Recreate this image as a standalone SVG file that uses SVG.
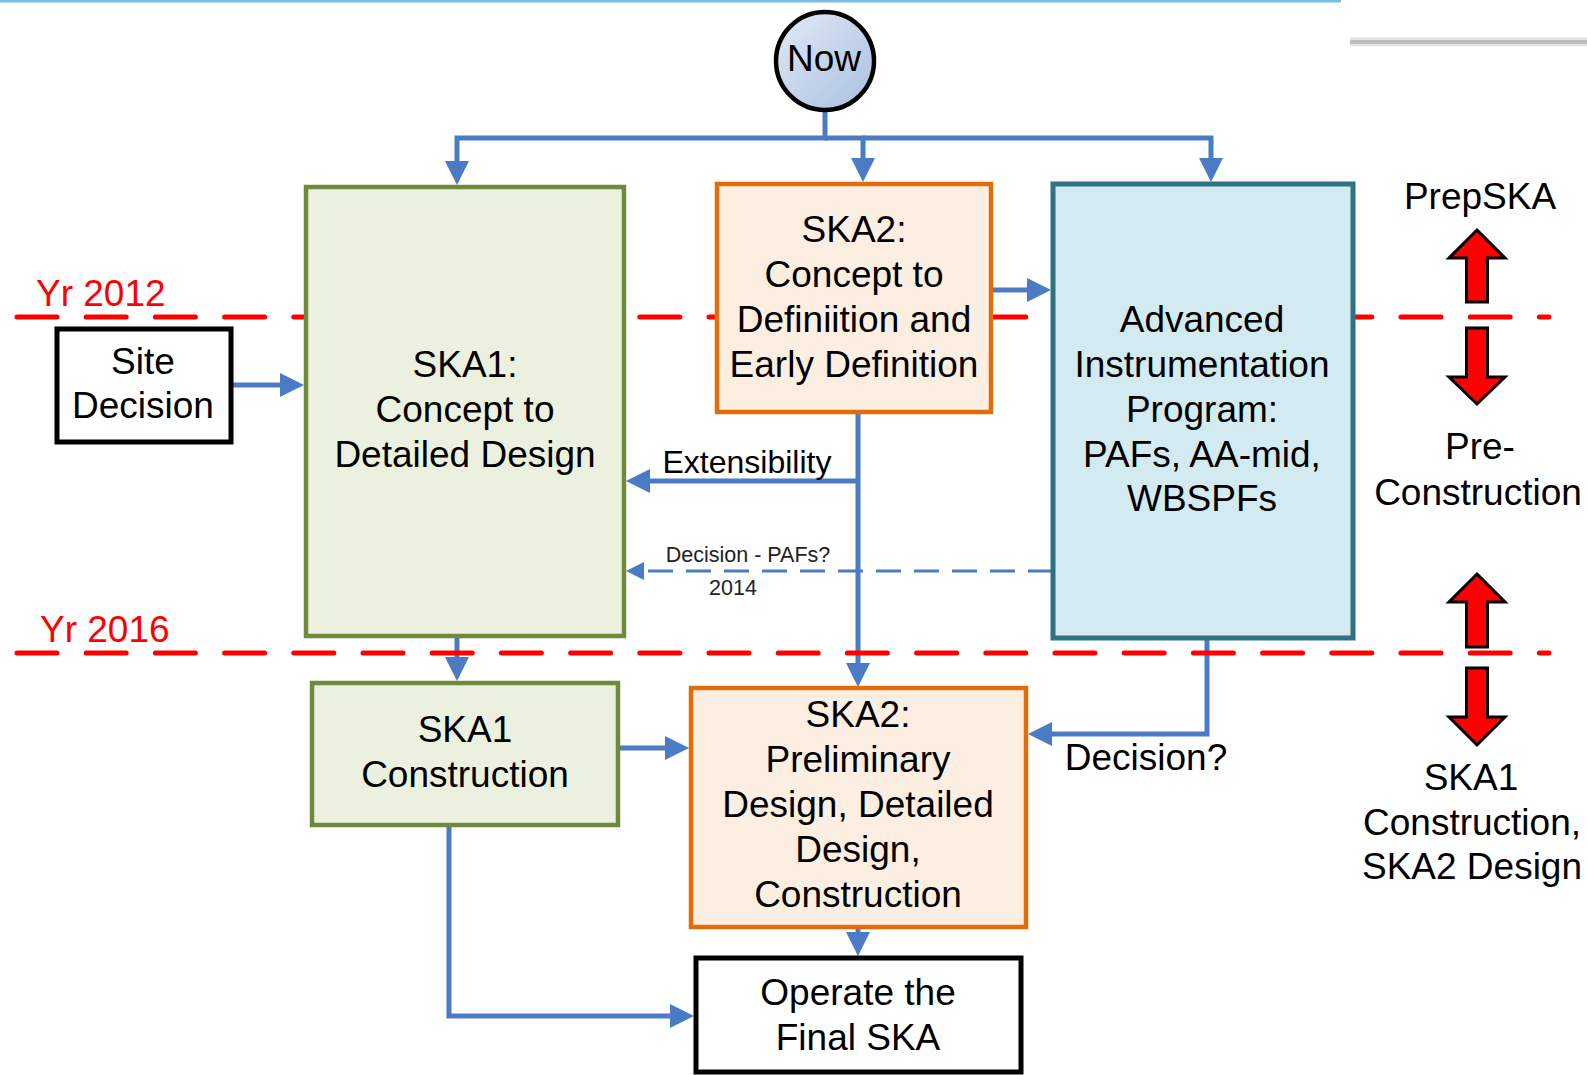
<svg xmlns="http://www.w3.org/2000/svg" width="1587" height="1075" viewBox="0 0 1587 1075">
<style>
text{font-family:"Liberation Sans",Arial,sans-serif;fill:#000;text-anchor:middle}
.t{font-size:37px}
.yr{font-size:37px;fill:#ff0000;text-anchor:start}
.ext{font-size:32px}
.sm{font-size:21.5px;fill:#222}
.con{fill:none;stroke:#4a7bc4;stroke-width:5;stroke-linejoin:miter}
.dash{fill:none;stroke:#4a7bc4;stroke-width:3;stroke-dasharray:25 13}
.red{fill:none;stroke:#ff0000;stroke-width:5;stroke-linecap:round;stroke-dasharray:40 29.2}
.rarr{fill:#ff0000;stroke:#000;stroke-width:3;stroke-linejoin:miter}
</style>
<defs>
<marker id="ah" markerUnits="userSpaceOnUse" markerWidth="24" markerHeight="24" refX="14" refY="12" orient="auto">
<path d="M0,0 L24,12 L0,24 z" fill="#4a7bc4"/>
</marker>
<marker id="ahs" markerUnits="userSpaceOnUse" markerWidth="18" markerHeight="18" refX="8" refY="9" orient="auto">
<path d="M0,0 L18,9 L0,18 z" fill="#4a7bc4"/>
</marker>
<linearGradient id="nowg" x1="0" y1="0" x2="1" y2="1">
<stop offset="0" stop-color="#e3eaf5"/>
<stop offset="1" stop-color="#a8bfe0"/>
</linearGradient>
</defs>

<g id="decor">
<line x1="0" y1="1" x2="1341" y2="1" stroke="#bfe2f3" stroke-width="4"/>
<line x1="0" y1="1" x2="1341" y2="1" stroke="#5fb1dd" stroke-width="1.5"/>
<line x1="1350" y1="42" x2="1587" y2="42" stroke="#e4e4e4" stroke-width="9"/>
<line x1="1350" y1="42" x2="1587" y2="42" stroke="#bdbdbd" stroke-width="4"/>
</g>

<g id="connectors">
<path class="con" d="M825,112 V138 H457 V175" marker-end="url(#ah)"/>
<path class="con" d="M825,138 H863 V172" marker-end="url(#ah)"/>
<path class="con" d="M863,138 H1211 V172" marker-end="url(#ah)"/>
<path class="con" d="M231,385 H294" marker-end="url(#ah)"/>
<path class="con" d="M991,290 H1041" marker-end="url(#ah)"/>
<path class="con" d="M858,412 V677" marker-end="url(#ah)"/>
<path class="con" d="M858,481 H636" marker-end="url(#ah)"/>
<path class="dash" d="M1053,571 H636" marker-end="url(#ahs)"/>
<path class="con" d="M457,636 V671" marker-end="url(#ah)"/>
<path class="con" d="M618,748 H679" marker-end="url(#ah)"/>
<path class="con" d="M1207,638 V734 H1038" marker-end="url(#ah)"/>
<path class="con" d="M858,927 V946" marker-end="url(#ah)"/>
<path class="con" d="M449,825 V1016 H684" marker-end="url(#ah)"/>
<text class="ext" x="747" y="473">Extensibility</text>
<text class="sm" x="748" y="562">Decision - PAFs?</text>
<text class="sm" x="733" y="595">2014</text>
<text class="t" x="1146" y="770">Decision?</text>
</g>

<g id="timeline">
<line class="red" x1="17" y1="317" x2="1549" y2="317"/>
<line class="red" x1="17" y1="653" x2="1549" y2="653"/>
<text class="yr" x="36" y="306">Yr 2012</text>
<text class="yr" x="40" y="642">Yr 2016</text>
</g>

<g id="now">
<circle cx="825" cy="61" r="49" fill="url(#nowg)" stroke="#000" stroke-width="4.5"/>
<text class="t" x="824" y="71">Now</text>
</g>

<g id="site-decision">
<rect x="57" y="329" width="174" height="113" fill="#fff" stroke="#000" stroke-width="5"/>
<text class="t" x="143" y="374">Site</text>
<text class="t" x="143" y="418">Decision</text>
</g>

<g id="ska1-design">
<rect x="306" y="187" width="318" height="449" fill="#ebf1de" stroke="#6f8a3c" stroke-width="4.5"/>
<text class="t" x="465" y="377">SKA1:</text>
<text class="t" x="465" y="422">Concept to</text>
<text class="t" x="465" y="467">Detailed Design</text>
</g>

<g id="ska2-concept">
<rect x="717" y="184" width="274" height="228" fill="#fdeee2" stroke="#e36c0a" stroke-width="4.5"/>
<text class="t" x="854" y="242">SKA2:</text>
<text class="t" x="854" y="287">Concept to</text>
<text class="t" x="854" y="332">Definiition and</text>
<text class="t" x="854" y="377">Early Definition</text>
</g>

<g id="aip">
<rect x="1053" y="184" width="300" height="454" fill="#d2eaf0" stroke="#2f7282" stroke-width="5"/>
<text class="t" x="1202" y="332">Advanced</text>
<text class="t" x="1202" y="377">Instrumentation</text>
<text class="t" x="1202" y="422">Program:</text>
<text class="t" x="1202" y="467">PAFs, AA-mid,</text>
<text class="t" x="1202" y="511">WBSPFs</text>
</g>

<g id="ska1-construction">
<rect x="312" y="683" width="306" height="142" fill="#ebf1de" stroke="#6f8a3c" stroke-width="4.5"/>
<text class="t" x="465" y="742">SKA1</text>
<text class="t" x="465" y="787">Construction</text>
</g>

<g id="ska2-construction">
<rect x="691" y="688" width="335" height="239" fill="#fdeee2" stroke="#e36c0a" stroke-width="4.5"/>
<text class="t" x="858" y="727">SKA2:</text>
<text class="t" x="858" y="772">Preliminary</text>
<text class="t" x="858" y="817">Design, Detailed</text>
<text class="t" x="858" y="862">Design,</text>
<text class="t" x="858" y="907">Construction</text>
</g>

<g id="operate">
<rect x="696" y="958" width="325" height="114" fill="#fff" stroke="#000" stroke-width="5"/>
<text class="t" x="858" y="1005">Operate the</text>
<text class="t" x="858" y="1050">Final SKA</text>
</g>

<g id="phases">
<text class="t" x="1480" y="209">PrepSKA</text>
<polygon class="rarr" points="1477,230 1505,258 1487.5,258 1487.5,302 1466.5,302 1466.5,258 1449,258"/>
<polygon class="rarr" points="1466.5,328 1487.5,328 1487.5,377 1505,377 1477,404 1449,377 1466.5,377"/>
<text class="t" x="1480" y="459">Pre-</text>
<text class="t" x="1478" y="505">Construction</text>
<polygon class="rarr" points="1477,574 1505,602 1487.5,602 1487.5,647 1466.5,647 1466.5,602 1449,602"/>
<polygon class="rarr" points="1466.5,668 1487.5,668 1487.5,717 1505,717 1477,745 1449,717 1466.5,717"/>
<text class="t" x="1471" y="790">SKA1</text>
<text class="t" x="1472" y="835">Construction,</text>
<text class="t" x="1472" y="879">SKA2 Design</text>
</g>
</svg>
